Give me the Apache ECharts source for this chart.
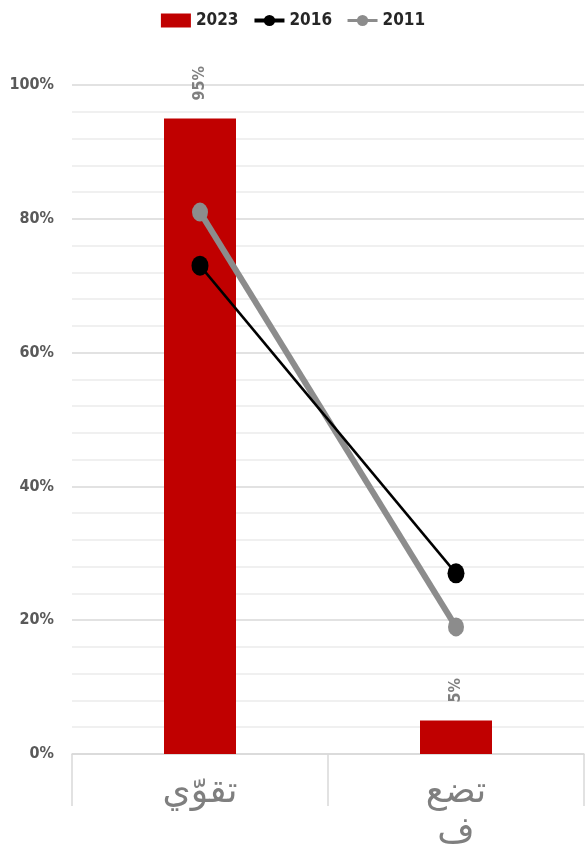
<!DOCTYPE html>
<html>
<head>
<meta charset="utf-8">
<script src="https://cdn.jsdelivr.net/npm/echarts@6/dist/echarts.min.js"></script>
<style>html,body{margin:0;padding:0;background:#fff;}#c{width:586px;height:846px;}</style>
</head>
<body>
<div id="c"></div>
<script>
const categories = ['تقوّي', 'تضعف'];
const s2023 = [95, 5];
const s2016 = [73, 27];
const s2011 = [81, 19];
const yTicks = [0, 20, 40, 60, 80, 100];

const chart = echarts.init(document.getElementById('c'));
const lblFont = 'DejaVu Sans Condensed, DejaVu Sans, sans-serif';
chart.setOption({
  animation: false,
  legend: {
    top: 7,
    left: 'center',
    itemGap: 14,
    itemWidth: 30,
    itemHeight: 14,
    textStyle: { fontFamily: lblFont, fontWeight: 'bold', fontSize: 17, color: '#262626' },
    data: [
      { name: '2023', icon: 'rect', itemStyle: { color: '#c00000' } },
      { name: '2016', lineStyle: { width: 4 } },
      { name: '2011', lineStyle: { width: 3 } }
    ]
  },
  grid: { left: 72, right: 2, top: 85, bottom: 92, containLabel: false, outerBoundsMode: 'none' },
  xAxis: {
    type: 'category',
    data: categories,
    axisLine: { lineStyle: { color: '#d9d9d9', width: 1.5 } },
    axisTick: { show: true, alignWithLabel: false, length: 52, lineStyle: { color: '#d9d9d9', width: 1.5 } },
    axisLabel: {
      margin: 19,
      fontFamily: 'DejaVu Sans, sans-serif',
      fontSize: 36,
      lineHeight: 40,
      color: '#7f7f7f',
      hideOverlap: false,
      formatter: v => v === 'تضعف' ? 'تضع\nف' : v
    }
  },
  yAxis: {
    type: 'value',
    min: yTicks[0],
    max: yTicks[yTicks.length - 1],
    interval: 20,
    axisLine: { show: false },
    axisTick: { show: false },
    axisLabel: {
      margin: 18,
      fontFamily: lblFont,
      fontWeight: 'bold',
      fontSize: 16,
      color: '#595959',
      formatter: v => v + '%'
    },
    splitLine: { lineStyle: { color: '#d9d9d9', width: 1.5 } },
    minorTick: { show: false, splitNumber: 5 },
    minorSplitLine: { show: true, lineStyle: { color: '#ececec', width: 1.5 } }
  },
  series: [
    {
      name: '2023',
      type: 'bar',
      data: s2023,
      barWidth: 72,
      itemStyle: { color: '#c00000' },
      z: 1,
      label: {
        show: true,
        position: 'top',
        distance: 18,
        rotate: 90,
        align: 'left',
        verticalAlign: 'middle',
        fontFamily: lblFont,
        fontWeight: 'bold',
        fontSize: 16,
        color: '#7f7f7f',
        formatter: p => p.value + '%'
      }
    },
    {
      name: '2016',
      type: 'line',
      data: s2016,
      symbol: 'circle',
      symbolSize: [17, 20],
      lineStyle: { color: '#000', width: 2.5 },
      itemStyle: { color: '#000' },
      z: 3
    },
    {
      name: '2011',
      type: 'line',
      data: s2011,
      symbol: 'circle',
      symbolSize: [16, 19],
      lineStyle: { color: '#8c8c8c', width: 6 },
      itemStyle: { color: '#8c8c8c' },
      z: 2
    }
  ]
});
</script>
</body>
</html>
